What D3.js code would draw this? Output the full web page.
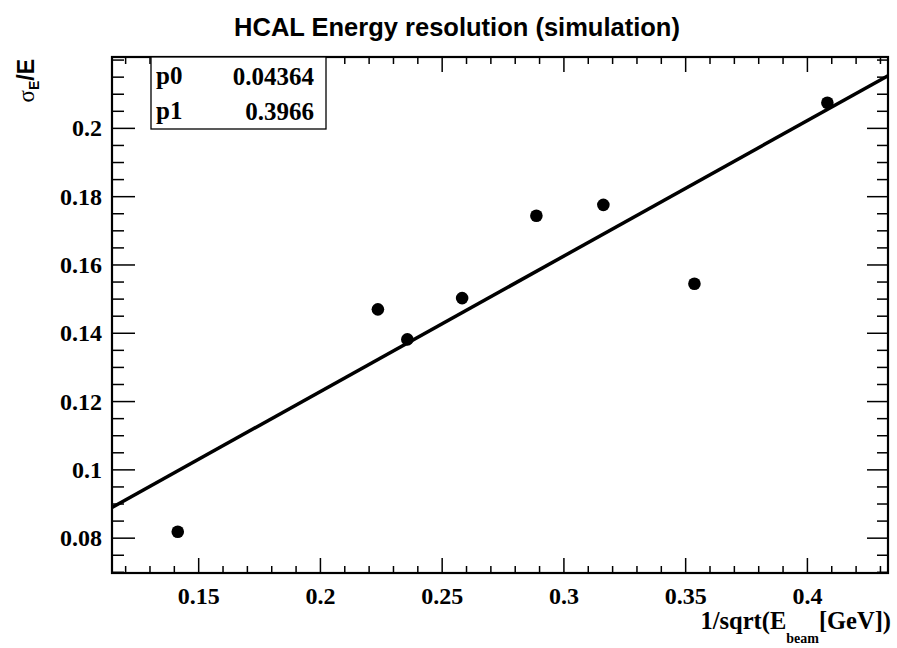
<!DOCTYPE html>
<html>
<head>
<meta charset="utf-8">
<script src="https://cdn.jsdelivr.net/npm/d3@7"></script>
<style>
  body { margin: 0; background: #fff; }
  #chart { width: 897px; height: 648px; }
</style>
</head>
<body>
<div id="chart"></div>
<script>
// Data
const beamX = [0.1414, 0.2236, 0.2357, 0.2582, 0.2887, 0.3162, 0.3536, 0.4082];
const resolution = [0.0819, 0.1470, 0.1382, 0.1503, 0.1744, 0.1776, 0.1545, 0.2075];
const fitNames = ["p0", "p1"];
const fitValues = ["0.04364", "0.3966"];
const xTicks = [0.15, 0.2, 0.25, 0.3, 0.35, 0.4];
const yTicks = [0.08, 0.1, 0.12, 0.14, 0.16, 0.18, 0.2];

const width = 897, height = 648;
const margin = { left: 112, right: 9, top: 57, bottom: 75 };

const svg = d3.select("#chart").append("svg")
  .attr("width", width)
  .attr("height", height);

const x = d3.scaleLinear().domain([0.1144, 0.4331]).range([margin.left, width - margin.right]);
const y = d3.scaleLinear().domain([0.0698, 0.2209]).range([height - margin.bottom, margin.top]);

const serif = "'Liberation Serif', 'Times New Roman', serif";
const sans = "'Liberation Sans', Arial, sans-serif";

// Minor ticks
const xMinor = d3.range(0.12, 0.4331, 0.01).filter(v => !xTicks.some(t => Math.abs(t - v) < 1e-6));
const yMinor = d3.range(0.07, 0.2209, 0.005).filter(v => !yTicks.some(t => Math.abs(t - v) < 1e-6));

const ticks = svg.append("g").attr("stroke", "#000").attr("stroke-width", 1.5);
const x0 = margin.left, x1 = width - margin.right, y0 = height - margin.bottom, y1 = margin.top;

// bottom & top ticks
xTicks.forEach(v => {
  ticks.append("line").attr("x1", x(v)).attr("x2", x(v)).attr("y1", y0).attr("y2", y0 - 15);
  ticks.append("line").attr("x1", x(v)).attr("x2", x(v)).attr("y1", y1).attr("y2", y1 + 15);
});
xMinor.forEach(v => {
  ticks.append("line").attr("x1", x(v)).attr("x2", x(v)).attr("y1", y0).attr("y2", y0 - 7);
  ticks.append("line").attr("x1", x(v)).attr("x2", x(v)).attr("y1", y1).attr("y2", y1 + 7);
});
// left & right ticks
yTicks.forEach(v => {
  ticks.append("line").attr("y1", y(v)).attr("y2", y(v)).attr("x1", x0).attr("x2", x0 + 23);
  ticks.append("line").attr("y1", y(v)).attr("y2", y(v)).attr("x1", x1).attr("x2", x1 - 21);
});
yMinor.forEach(v => {
  ticks.append("line").attr("y1", y(v)).attr("y2", y(v)).attr("x1", x0).attr("x2", x0 + 12);
  ticks.append("line").attr("y1", y(v)).attr("y2", y(v)).attr("x1", x1).attr("x2", x1 - 11);
});

// tick labels
svg.append("g").selectAll("text").data(xTicks).join("text")
  .attr("x", d => x(d)).attr("y", 604)
  .attr("text-anchor", "middle")
  .attr("font-family", serif).attr("font-weight", "bold").attr("font-size", 24)
  .text(d => d3.format("")(d));

svg.append("g").selectAll("text").data(yTicks).join("text")
  .attr("x", 102).attr("y", d => y(d) + 8)
  .attr("text-anchor", "end")
  .attr("font-family", serif).attr("font-weight", "bold").attr("font-size", 24)
  .text(d => d3.format("")(d));

// fit line
svg.append("defs").append("clipPath").attr("id", "frameClip")
  .append("rect").attr("x", x0).attr("y", y1).attr("width", x1 - x0).attr("height", y0 - y1);

const p0 = +fitValues[0], p1 = +fitValues[1];
const fitLine = d3.line().x(d => x(d)).y(d => y(p0 + p1 * d));
svg.append("path")
  .attr("clip-path", "url(#frameClip)")
  .attr("d", fitLine(x.domain()))
  .attr("fill", "none").attr("stroke", "#000").attr("stroke-width", 3.5);

// points
svg.append("g").selectAll("circle").data(beamX).join("circle")
  .attr("cx", d => x(d)).attr("cy", (d, i) => y(resolution[i]))
  .attr("r", 6.3).attr("fill", "#000");

// frame
svg.append("rect")
  .attr("x", x0).attr("y", y1).attr("width", x1 - x0).attr("height", y0 - y1)
  .attr("fill", "none").attr("stroke", "#000").attr("stroke-width", 2.2);

// stats box
const box = svg.append("g");
box.append("rect").attr("x", 151).attr("y", 57).attr("width", 175).attr("height", 72)
  .attr("fill", "#fff").attr("stroke", "#000").attr("stroke-width", 1.3);
fitNames.forEach((n, i) => {
  box.append("text").attr("x", 156).attr("y", 84 + i * 35)
    .attr("font-family", serif).attr("font-weight", "bold").attr("font-size", 25).text(n);
  box.append("text").attr("x", 314).attr("y", 85 + i * 35).attr("text-anchor", "end")
    .attr("font-family", serif).attr("font-weight", "bold").attr("font-size", 25).text(fitValues[i]);
});

// title
svg.append("text").attr("x", 457).attr("y", 36).attr("text-anchor", "middle")
  .attr("font-family", sans).attr("font-weight", "bold").attr("font-size", 25.5)
  .text("HCAL Energy resolution (simulation)");

// y axis title
const yt = svg.append("text")
  .attr("transform", "translate(34,59) rotate(-90)")
  .attr("text-anchor", "end")
  .attr("font-family", sans).attr("font-weight", "bold").attr("font-size", 23);
yt.append("tspan").attr("font-weight", "normal").attr("font-family", serif).text("σ");
yt.append("tspan").attr("font-size", 14).attr("dy", 5).text("E");
yt.append("tspan").attr("dy", -5).text("/E");

// x axis title
const xt = svg.append("text")
  .attr("x", 891).attr("y", 629).attr("text-anchor", "end")
  .attr("font-family", serif).attr("font-weight", "bold").attr("font-size", 24.5);
xt.append("tspan").text("1/sqrt(E");
xt.append("tspan").attr("font-size", 14).attr("dy", 14).text("beam");
xt.append("tspan").attr("dy", -14).text("[GeV])");
</script>
</body>
</html>
